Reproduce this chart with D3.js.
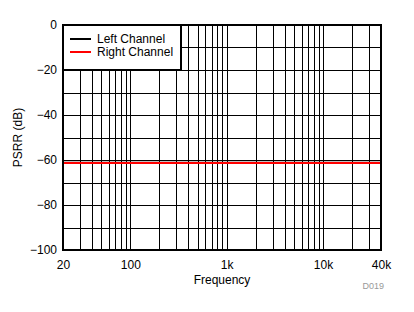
<!DOCTYPE html>
<html>
<head>
<meta charset="utf-8">
<script src="https://cdn.jsdelivr.net/npm/d3@7"></script>
<style>
  body { margin: 0; background: #fff; }
  text { font-family: "Liberation Sans", Arial, sans-serif; }
</style>
</head>
<body>
<svg id="chart"></svg>
<script>
// data
const freqs = [20, 40000];
const leftChannel = [-61.2, -61.2];
const rightChannel = [-61.3, -61.3];
const xTickValues = [20, 100, 1000, 10000, 40000];
const xTickLabels = ["20", "100", "1k", "10k", "40k"];
const yTickValues = [0, -20, -40, -60, -80, -100];
const seriesNames = ["Left Channel", "Right Channel"];
const seriesColors = ["#000000", "#ff0000"];

const width = 414, height = 312;
const margin = { top: 25, right: 33, bottom: 62, left: 63 };
const innerW = width - margin.left - margin.right;
const innerH = height - margin.top - margin.bottom;

const svg = d3.select("#chart").attr("width", width).attr("height", height);
const g = svg.append("g").attr("transform", `translate(${margin.left},${margin.top})`);

const x = d3.scaleLog().domain([20, 40000]).range([0, innerW]);
const y = d3.scaleLinear().domain([-100, 0]).range([innerH, 0]);

// vertical grid: 1..9 in each decade
const gridX = [];
for (let dec = 10; dec <= 10000; dec *= 10) {
  for (let m = 1; m <= 9; m++) {
    const v = m * dec;
    if (v > 20 && v < 40000) gridX.push(v);
  }
}
g.append("g").selectAll("line").data(gridX).join("line")
    .attr("x1", d => Math.round(x(d)) + 0.5).attr("x2", d => Math.round(x(d)) + 0.5)
    .attr("y1", 0).attr("y2", innerH)
    .attr("stroke", "#000").attr("stroke-width", 1);

// horizontal grid every 10 dB
g.append("g").selectAll("line").data(d3.range(-90, 0, 10)).join("line")
    .attr("x1", 0).attr("x2", innerW)
    .attr("y1", d => Math.round(y(d)) + 0.5).attr("y2", d => Math.round(y(d)) + 0.5)
    .attr("stroke", "#000").attr("stroke-width", 1);

// axes (labels only)
const xAxis = g.append("g").attr("transform", `translate(0,${innerH})`)
    .call(d3.axisBottom(x).tickValues(xTickValues)
      .tickFormat((d, i) => xTickLabels[i]).tickSize(0).tickPadding(10));
const yAxis = g.append("g")
    .call(d3.axisLeft(y).tickValues(yTickValues).tickSize(0).tickPadding(6));
[xAxis, yAxis].forEach(a => {
  a.select(".domain").remove();
  a.selectAll("text").attr("font-size", 12).attr("fill", "#000")
    .attr("font-family", '"Liberation Sans", Arial, sans-serif');
});

// data lines
const line = d3.line().x(d => x(d[0])).y(d => y(d[1]));
[leftChannel, rightChannel].forEach((vals, i) => {
  g.append("path")
      .datum(freqs.map((f, j) => [f, vals[j]]))
      .attr("d", line)
      .attr("fill", "none")
      .attr("stroke", seriesColors[i])
      .attr("stroke-width", 2);
});

// frame
g.append("rect").attr("x", 0).attr("y", 0).attr("width", innerW).attr("height", innerH)
    .attr("fill", "none").attr("stroke", "#000").attr("stroke-width", 2);

// legend
const legend = g.append("g");
legend.append("rect").attr("x", 0).attr("y", 0).attr("width", 118).attr("height", 45)
    .attr("fill", "#fff").attr("stroke", "#000").attr("stroke-width", 2);
seriesNames.forEach((name, i) => {
  const ly = 14 + i * 13;
  legend.append("line").attr("x1", 7).attr("x2", 28).attr("y1", ly).attr("y2", ly)
      .attr("stroke", seriesColors[i]).attr("stroke-width", 2);
  legend.append("text").attr("x", 34).attr("y", ly + 4)
      .attr("font-size", 12).attr("fill", "#000").text(name);
});

// axis titles
svg.append("text").attr("x", margin.left + innerW / 2).attr("y", 284)
    .attr("text-anchor", "middle").attr("font-size", 12).text("Frequency");
svg.append("text")
    .attr("transform", `translate(22,${margin.top + innerH / 2}) rotate(-90)`)
    .attr("text-anchor", "middle").attr("font-size", 12).text("PSRR (dB)");
svg.append("text").attr("x", 384).attr("y", 289)
    .attr("text-anchor", "end").attr("font-size", 9).attr("fill", "#999").text("D019");
</script>
</body>
</html>
